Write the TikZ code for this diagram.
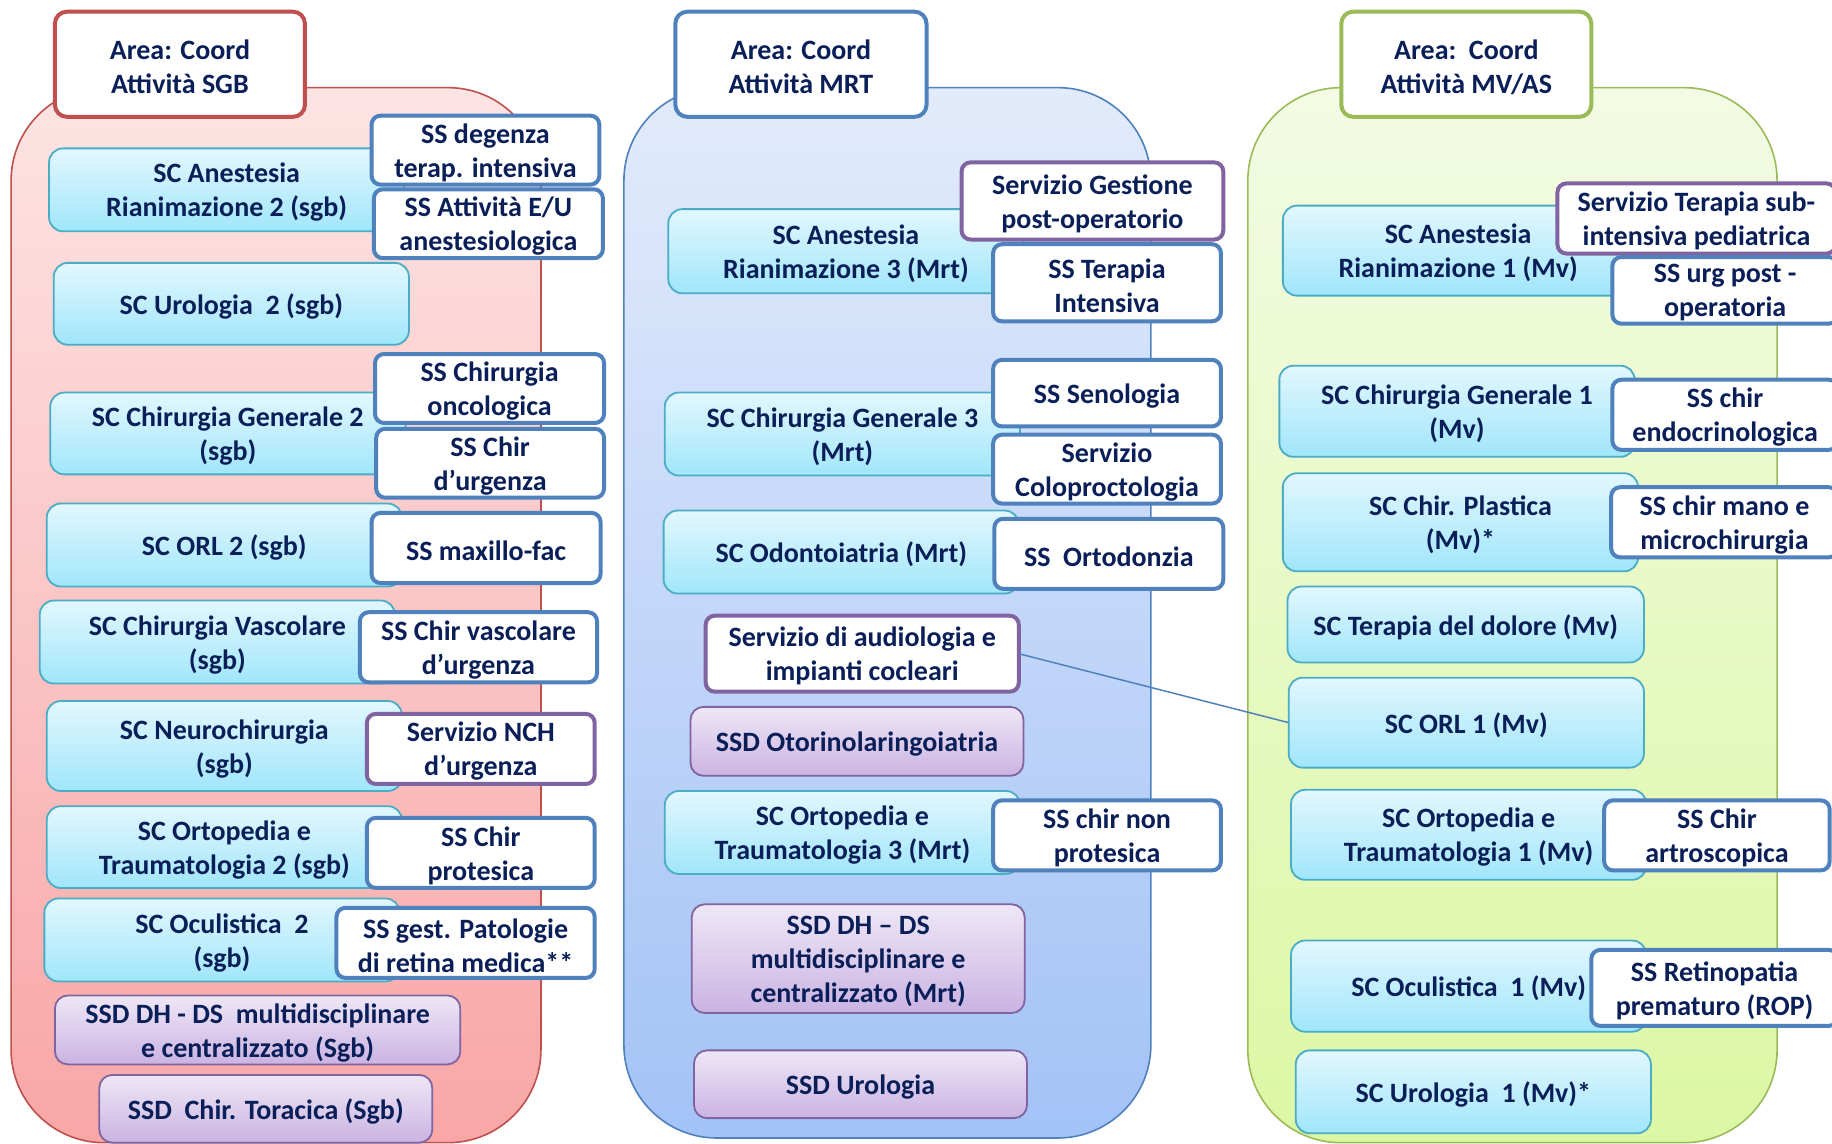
\documentclass[tikz,border=0pt]{standalone}
\usepackage{fontspec}
\setmainfont{Carlito}

\definecolor{navy}{HTML}{0A1F58}
\definecolor{redline}{HTML}{C0504D}
\definecolor{blueline}{HTML}{4F81BD}
\definecolor{greenline}{HTML}{9BBB59}
\definecolor{purpleline}{HTML}{8064A2}
\definecolor{scline}{HTML}{4BACC6}
\definecolor{sctop}{HTML}{E2F7FE}
\definecolor{scbot}{HTML}{A0E6FA}
\definecolor{pptop}{HTML}{EEE7F7}
\definecolor{ppbot}{HTML}{CAB3E2}
\definecolor{redtop}{HTML}{FDE4E4}
\definecolor{redbot}{HTML}{F9A6A6}
\definecolor{bluetop}{HTML}{E2EBFB}
\definecolor{bluebot}{HTML}{A3C2F6}
\definecolor{greentop}{HTML}{F3FBE4}
\definecolor{greenbot}{HTML}{DCF7A4}

% box given by its corners (x1,y1)-(x2,y2): style, name, x1, y1, x2, y2, text
\newcommand\orgbox[7]{%
  \node[#1, minimum width={(#5-#3)*1.1684pt}, minimum height={(#6-#4)*1.1684pt},
        label={[txt, yshift=-2.6pt]center:{#7}}]
    (#2) at ({(#3+#5)/2},{(#4+#6)/2}) {};}

\begin{document}
\begin{tikzpicture}[x=1.1684pt, y=-1.1684pt,
  txt/.style={align=center, font=\fontsize{28}{34}\selectfont\bfseries,
    text=navy, inner sep=0pt, outer sep=0pt},
  base/.style={inner sep=0pt, outer sep=0pt},
  hdr/.style={base, draw=#1, line width=4pt, fill=white, rounded corners=12pt},
  scbox/.style={base, draw=scline, line width=1.8pt, rounded corners=14pt,
    top color=sctop, bottom color=scbot},
  ssbox/.style={base, draw=blueline, line width=4pt, fill=white, rounded corners=9pt},
  svbox/.style={ssbox, draw=purpleline},
  ssdbox/.style={base, draw=purpleline, line width=1.8pt, rounded corners=13pt,
    top color=pptop, bottom color=ppbot},
  area/.style={line width=1.6pt, rounded corners=93pt}]

\path[use as bounding box] (0,0) rectangle (1568,979);
\clip (0,0) rectangle (1568,979);

% area backgrounds
\path[area, draw=redline, top color=redtop, bottom color=redbot] (9.5,75) rectangle (463,978);
\path[area, draw=blueline, top color=bluetop, bottom color=bluebot] (534,75) rectangle (985,974);
\path[area, draw=greenline, top color=greentop, bottom color=greenbot] (1068,75) rectangle (1521,978);

% area titles
\orgbox{hdr=redline}{hsgb}{47}{10}{261}{100}{Area: Coord\\Attività SGB}
\orgbox{hdr=blueline}{hmrt}{578}{10}{793}{100}{Area: Coord\\Attività MRT}
\orgbox{hdr=greenline}{hmv}{1148}{10}{1362}{100}{Area:\ \ Coord\\Attività MV/AS}

% ---- SGB column ----
\orgbox{scbox}{anest2}{42}{127}{346}{198}{SC Anestesia\\Rianimazione 2 (sgb)}
\orgbox{scbox}{uro2}{46}{225}{350}{295}{SC Urologia\ \ 2 (sgb)}
\orgbox{scbox}{chg2}{43}{336}{347}{406}{SC Chirurgia Generale 2\\(sgb)}
\orgbox{scbox}{orl2}{40}{431}{344}{502}{SC ORL 2 (sgb)}
\orgbox{scbox}{vasc2}{34}{514}{338}{585}{SC Chirurgia Vascolare\\(sgb)}
\orgbox{scbox}{nch2}{40}{600}{344}{677}{SC Neurochirurgia\\(sgb)}
\orgbox{scbox}{orto2}{40}{690}{344}{760}{SC Ortopedia e\\Traumatologia 2 (sgb)}
\orgbox{scbox}{ocu2}{38}{769}{342}{840}{SC Oculistica\ \ 2\\(sgb)}
\orgbox{ssdbox}{dh2}{47}{852}{394}{911}{SSD DH - DS\ \ multidisciplinare\\e centralizzato (Sgb)}
\orgbox{ssdbox}{tor2}{85}{920}{370}{978}{SSD\ \ Chir. Toracica (Sgb)}

\orgbox{ssbox}{degenza}{318}{99}{513}{158}{SS degenza\\terap. intensiva}
\orgbox{ssbox}{eu}{320}{162}{516}{221}{SS Attività E/U\\anestesiologica}
\orgbox{ssbox}{onco}{321}{303}{517}{362}{SS Chirurgia\\oncologica}
\orgbox{ssbox}{urg2}{322}{367}{517}{426}{SS Chir\\d’urgenza}
\orgbox{ssbox}{maxfac}{318}{439}{514}{499}{SS maxillo-fac}
\orgbox{ssbox}{vascurg}{308}{524}{511}{584}{SS Chir vascolare\\d’urgenza}
\orgbox{svbox}{nchurg}{314}{611}{509}{671}{Servizio NCH\\d’urgenza}
\orgbox{ssbox}{protes}{314}{700}{509}{760}{SS Chir\\protesica}
\orgbox{ssbox}{retina}{288}{777}{509}{837}{SS gest. Patologie\\di retina medica**}

% ---- MRT column ----
\orgbox{scbox}{anest3}{572}{179}{876}{251}{SC Anestesia\\Rianimazione 3 (Mrt)}
\orgbox{scbox}{chg3}{569}{336}{873}{407}{SC Chirurgia Generale 3\\(Mrt)}
\orgbox{scbox}{odonto}{568}{437}{872}{508}{SC Odontoiatria (Mrt)}
\orgbox{svbox}{audio}{604}{527}{872}{592}{Servizio di audiologia e\\impianti cocleari}
\orgbox{ssdbox}{otorino}{591}{605}{876}{664}{SSD Otorinolaringoiatria}
\orgbox{scbox}{orto3}{569}{677}{873}{748}{SC Ortopedia e\\Traumatologia 3 (Mrt)}
\orgbox{ssdbox}{dh3}{592}{774}{877}{867}{SSD DH – DS\\multidisciplinare e\\centralizzato (Mrt)}
\orgbox{ssdbox}{urossd}{594}{899}{879}{957}{SSD Urologia}

\orgbox{svbox}{postop}{823}{139}{1047}{205}{Servizio Gestione\\post-operatorio}
\orgbox{ssbox}{terint}{850}{209}{1045}{275}{SS Terapia\\Intensiva}
\orgbox{ssbox}{seno}{850}{308}{1045}{365}{SS Senologia}
\orgbox{ssbox}{colo}{850}{372}{1045}{431}{Servizio\\Coloproctologia}
\orgbox{ssbox}{ortod}{851}{444}{1047}{504}{SS\ \ Ortodonzia}
\orgbox{ssbox}{nonprot}{850}{685}{1045}{745}{SS chir non\\protesica}

% ---- MV/AS column ----
\orgbox{scbox}{anest1}{1098}{176}{1398}{253}{SC Anestesia\\Rianimazione 1 (Mv)}
\orgbox{scbox}{chg1}{1095}{313}{1399}{391}{SC Chirurgia Generale 1\\(Mv)}
\orgbox{scbox}{plast}{1098}{405}{1402}{489}{SC Chir. Plastica\\(Mv)*}
\orgbox{scbox}{dolore}{1102}{502}{1407}{567}{SC Terapia del dolore (Mv)}
\orgbox{scbox}{orl1}{1103}{580}{1407}{657}{SC ORL 1 (Mv)}
\orgbox{scbox}{orto1}{1105}{676}{1409}{753}{SC Ortopedia e\\Traumatologia 1 (Mv)}
\orgbox{scbox}{ocu1}{1105}{805}{1409}{883}{SC Oculistica\ \ 1 (Mv)}
\orgbox{scbox}{uro1}{1109}{899}{1413}{970}{SC Urologia\ \ 1 (Mv)*}

\orgbox{svbox}{subint}{1333}{157}{1571}{217}{Servizio Terapia sub-\\intensiva pediatrica}
\orgbox{ssbox}{urgpost}{1380}{220}{1573}{277}{SS urg post -\\operatoria}
\orgbox{ssbox}{endo}{1380}{325}{1573}{385}{SS chir\\endocrinologica}
\orgbox{ssbox}{mano}{1379}{417}{1573}{477}{SS chir mano e\\microchirurgia}
\orgbox{ssbox}{artro}{1373}{685}{1566}{745}{SS Chir\\artroscopica}
\orgbox{ssbox}{rop}{1362}{813}{1573}{878}{SS Retinopatia\\prematuro (ROP)}

% link between the audiology service and ORL 1
\draw[blueline, line width=1.5pt] (audio.east) -- (orl1.west);
\end{tikzpicture}
\end{document}
